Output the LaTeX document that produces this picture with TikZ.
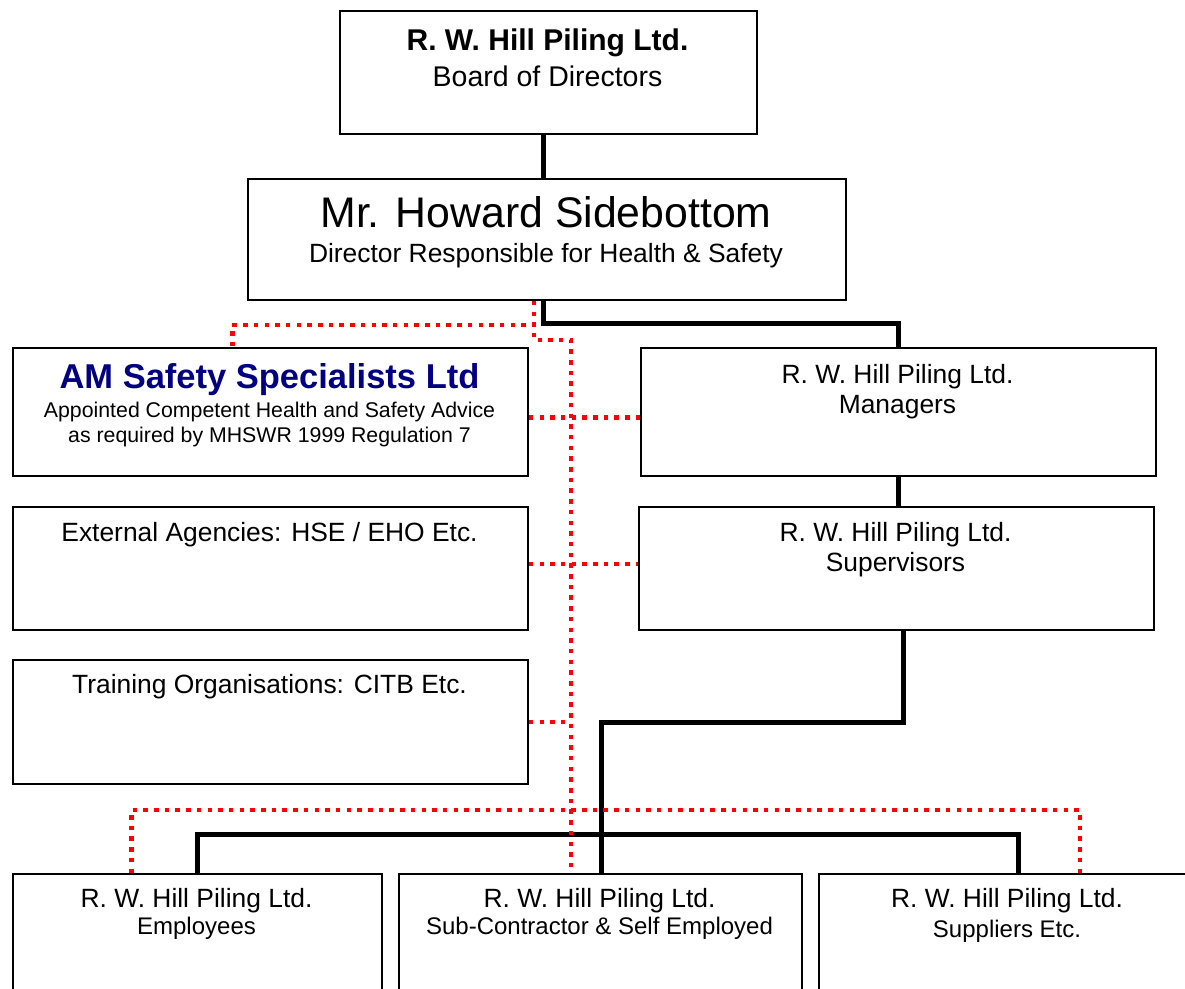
\documentclass[tikz,border=0pt]{standalone}
\usepackage{fontspec}
\setmainfont{Liberation Sans}
\definecolor{amnavy}{RGB}{0,0,128}
\definecolor{advred}{RGB}{255,0,0}

\begin{document}
\begin{tikzpicture}[x=1pt, y=-1pt,
  box/.style={draw, line width=1.8pt, anchor=north west, inner sep=0pt},
  txt/.style={anchor=base, inner sep=0pt, font=\fontsize{26.4}{30}\selectfont},
  small/.style={txt, font=\fontsize{24}{28}\selectfont},
  line/.style={draw, line width=5pt},
  advice/.style={draw=advred, line width=4.5pt, dash pattern=on 4.5pt off 6.2pt}
]

\useasboundingbox (0,0) rectangle (1185,988);

% Boxes
\node[box, minimum width=417pt, minimum height=123pt] (board) at (339,10) {};
\node[box, minimum width=598pt, minimum height=121pt] (howard) at (247,178) {};
\node[box, minimum width=515pt, minimum height=128pt] (amsafety) at (12,347) {};
\node[box, minimum width=515pt, minimum height=128pt] (managers) at (640,347) {};
\node[box, minimum width=515pt, minimum height=123pt] (external) at (12,506) {};
\node[box, minimum width=515pt, minimum height=123pt] (supervisors) at (638,506) {};
\node[box, minimum width=515pt, minimum height=124pt] (training) at (12,659) {};
\node[box, minimum width=369pt, minimum height=140pt] (employees) at (12,873) {};
\node[box, minimum width=403pt, minimum height=140pt] (sub) at (398,873) {};
\node[box, minimum width=378pt, minimum height=140pt] (suppliers) at (818,873) {};

% Texts
\node[txt, font=\bfseries\fontsize{30}{34}\selectfont] (boardname) at (547.5,50) {R. W. Hill Piling Ltd.};
\node[txt, font=\fontsize{28.5}{32}\selectfont] (boardrole) at (547.5,86) {Board of Directors};
\node[txt, font=\fontsize{42.8}{48}\selectfont] (howardname) at (546,227) {Mr. Howard Sidebottom};
\node[txt] (howardrole) at (546,262) {Director Responsible for Health \& Safety};
\node[txt, font=\bfseries\fontsize{34.5}{38}\selectfont, text=amnavy] (amname) at (269.5,388) {AM Safety Specialists Ltd};
\node[txt, font=\fontsize{21.3}{24}\selectfont] (amrole) at (269.5,417) {Appointed Competent Health and Safety Advice};
\node[txt, font=\fontsize{21.3}{24}\selectfont] (amreg) at (269.5,442) {as required by MHSWR 1999 Regulation 7};
\node[txt] (mgrname) at (897.5,383) {R. W. Hill Piling Ltd.};
\node[txt] (mgrrole) at (897.5,413) {Managers};
\node[txt] (exttext) at (269.5,541) {External Agencies: HSE / EHO Etc.};
\node[txt] (supname) at (895.5,541) {R. W. Hill Piling Ltd.};
\node[txt] (suprole) at (895.5,571) {Supervisors};
\node[txt] (trntext) at (269.5,693) {Training Organisations: CITB Etc.};
\node[txt] (empname) at (196.5,907) {R. W. Hill Piling Ltd.};
\node[small] (emprole) at (196.5,934) {Employees};
\node[txt] (subname) at (599.5,907) {R. W. Hill Piling Ltd.};
\node[small] (subrole) at (599.5,934) {Sub-Contractor \& Self Employed};
\node[txt] (suppname) at (1007,907) {R. W. Hill Piling Ltd.};
\node[small] (supprole) at (1007,937) {Suppliers Etc.};

% Line management
\draw[line] ([xshift=-3pt]howard.north) -- ([xshift=-3pt]howard.north |- board.south);
\draw[line] ([xshift=-3pt]howard.south) -- ++(0,23) -| (managers.north);
\draw[line] (managers.south) -- (managers.south |- supervisors.north);
\draw[line] ([xshift=7.5pt]supervisors.south) -- ++(0,92) -| ([xshift=1.5pt]sub.north);
\draw[line] (employees.north) -- ++(0,-39) -| ([xshift=11pt]suppliers.north);

% Advice links (dotted)
\coordinate (spine) at (571,340);
\draw[advice] ([xshift=-13pt]howard.south) -- ++(0,24) -| ([xshift=-38pt]amsafety.north);
\draw[advice] ([xshift=-13pt]howard.south) |- (spine) -- (spine |- sub.north);
\draw[advice] (amsafety.east) ++(0,5.5) coordinate (amlink) -- (amlink -| managers.west);
\draw[advice] (external.east) ++(0,-4.5) coordinate (extlink) -- (extlink -| supervisors.west);
\draw[advice] (training.east) -- (training.east -| spine);
\draw[advice] ([xshift=-66pt]employees.north) -- ++(0,-63) -| ([xshift=72pt]suppliers.north);

\end{tikzpicture}
\end{document}
